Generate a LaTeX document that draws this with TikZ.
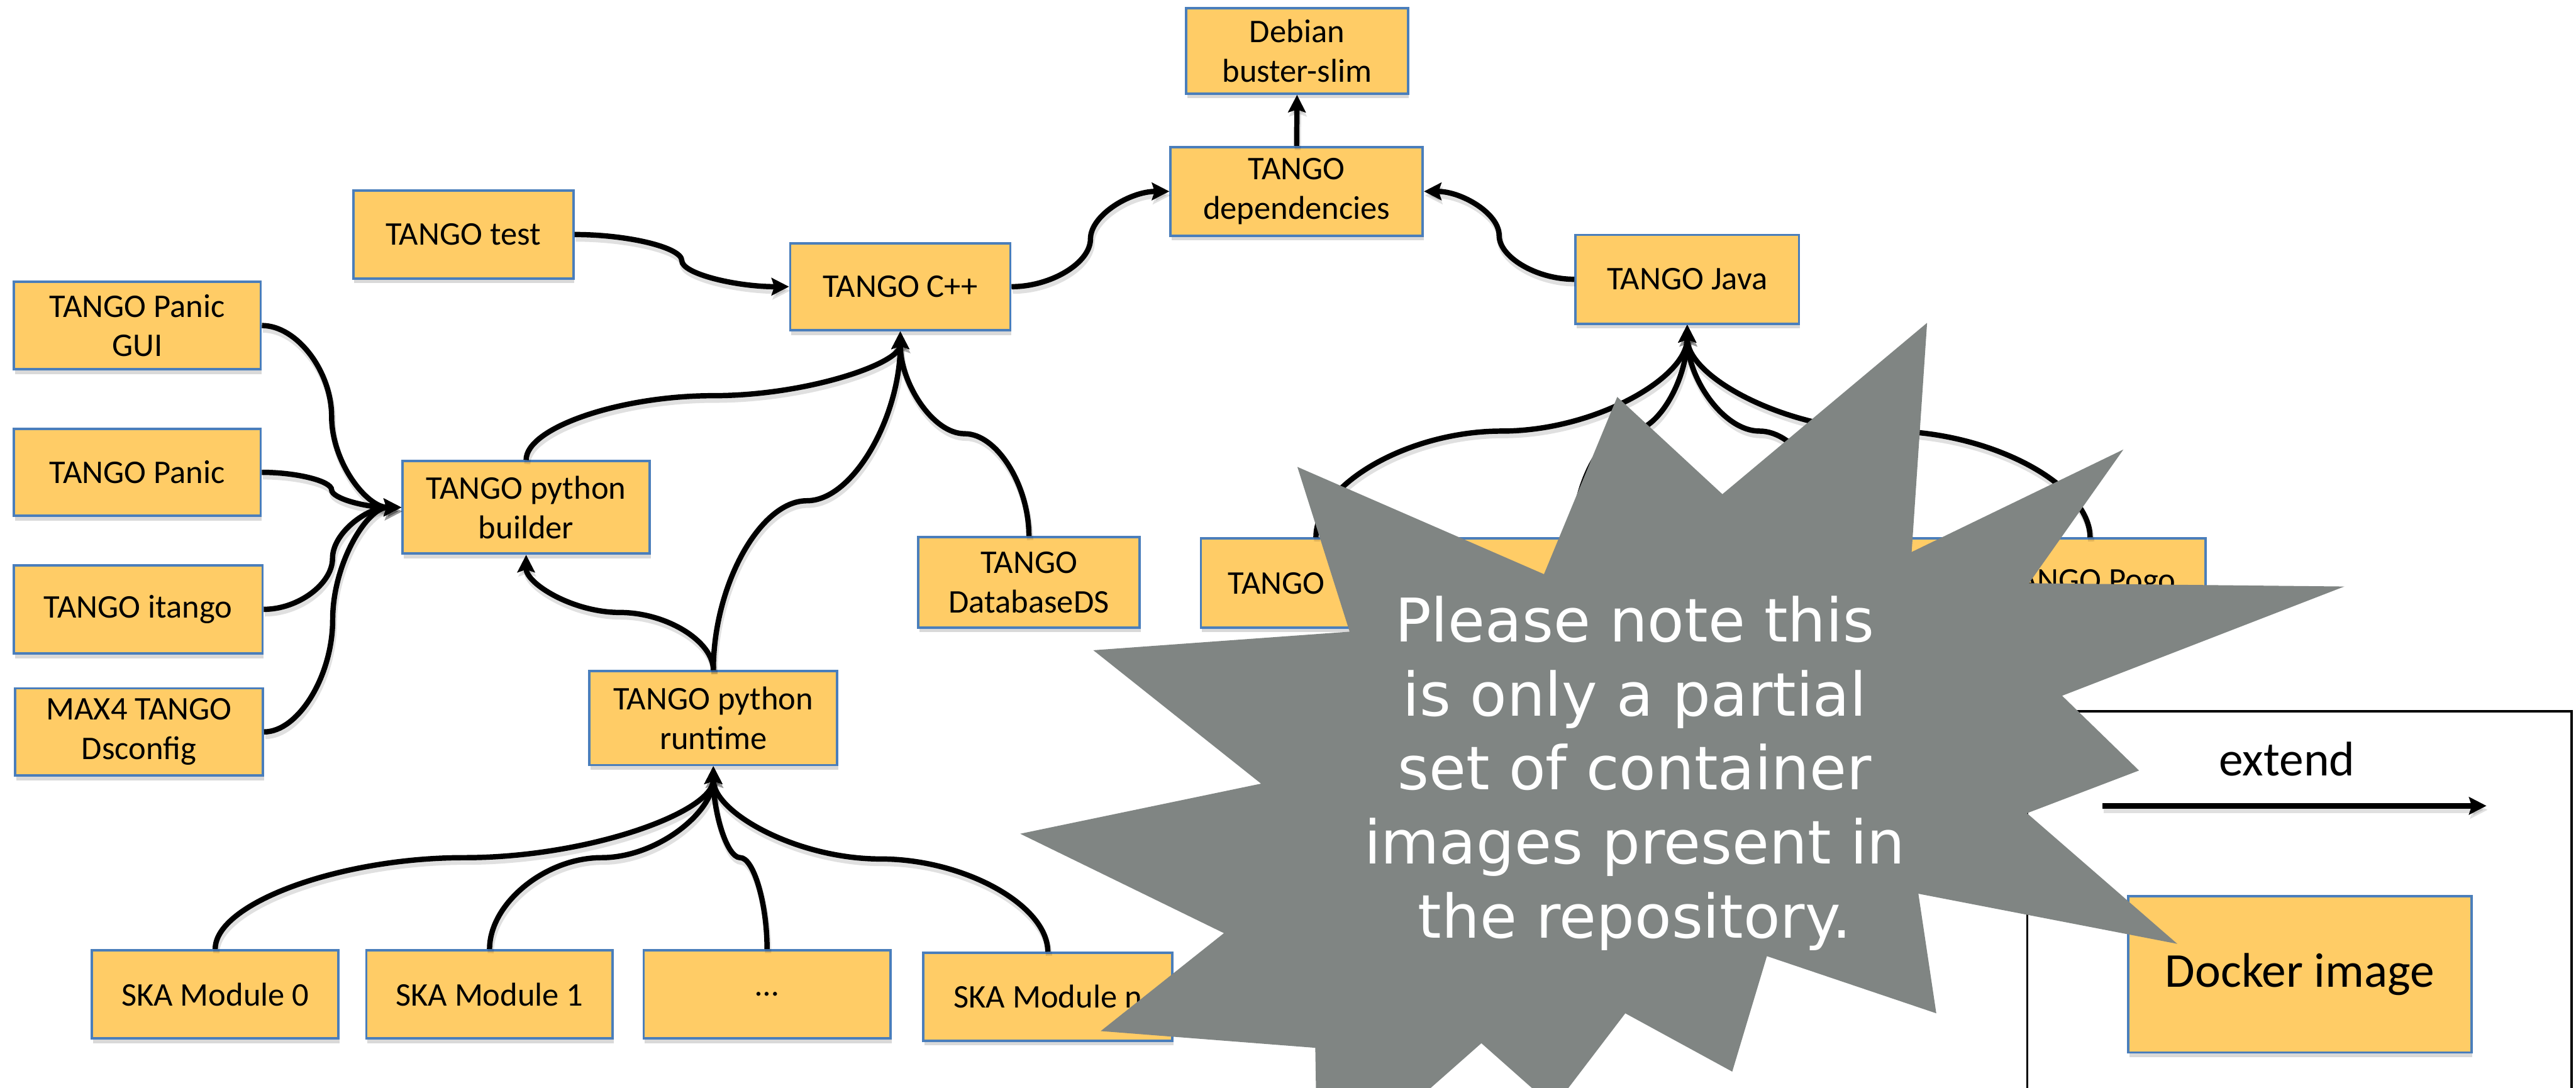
\documentclass[tikz,border=0pt]{standalone}
\usepackage{fontspec}
\setmainfont{Carlito}
\newfontfamily\notefont{DejaVu Sans}
\usetikzlibrary{calc,shadows,arrows.meta}
\definecolor{boxfill}{RGB}{255,204,102}
\definecolor{boxline}{RGB}{74,126,187}
\definecolor{starfill}{RGB}{128,133,131}
\newcommand\mkbox[6]{\node[ibox, minimum width={(#4-#2)*0.031454cm}, minimum height={(#5-#3)*0.031454cm}] (#1) at ({(#2+#4)/2},{(#3+#5)/2}) {#6};}
\begin{document}
\begin{tikzpicture}[x=0.031454cm, y=-0.031454cm,
  ibox/.style={draw=boxline, fill=boxfill, line width=1.3pt, align=center, inner sep=0pt,
    font=\fontsize{18}{21.5}\selectfont,
    drop shadow={shadow xshift=0.6pt, shadow yshift=-2.6pt, opacity=0.3}},
  conn/.style={line width=2.9pt, -{Stealth[length=9.5pt,width=9.5pt,inset=1.5pt]},
    preaction={draw=black, opacity=0.12, line width=3.4pt, transform canvas={xshift=0.6pt,yshift=-2.2pt}}},
  notetext/.style={text=white, anchor=base, inner sep=0pt, font=\notefont\fontsize{32.8}{40.3}\selectfont},
  vcurve/.style={to path={let \p1=(\tikztostart), \p2=(\tikztotarget), \n1={#1} in
    .. controls (\x1,{\y1+0.5*\n1*(\y2-\y1)}) and ({\x1+0.25*(\x2-\x1)},{\y1+\n1*(\y2-\y1)})
    .. ({0.5*(\x1+\x2)},{\y1+\n1*(\y2-\y1)})
    .. controls ({\x1+0.75*(\x2-\x1)},{\y1+\n1*(\y2-\y1)}) and (\x2,{\y1+0.5*(1+\n1)*(\y2-\y1)})
    .. (\x2,\y2) \tikztonodes}},
  vcurve/.default=0.5,
  hcurve/.style={to path={let \p1=(\tikztostart), \p2=(\tikztotarget), \n1={#1} in
    .. controls ({\x1+0.5*\n1*(\x2-\x1)},\y1) and ({\x1+\n1*(\x2-\x1)},{\y1+0.25*(\y2-\y1)})
    .. ({\x1+\n1*(\x2-\x1)},{0.5*(\y1+\y2)})
    .. controls ({\x1+\n1*(\x2-\x1)},{\y1+0.75*(\y2-\y1)}) and ({\x1+0.5*(1+\n1)*(\x2-\x1)},\y2)
    .. (\x2,\y2) \tikztonodes}},
  hcurve/.default=0.5]
\useasboundingbox (0,0) rectangle (1568,662);
\clip (0,0) rectangle (1568,662);

% legend
\node[draw=black, line width=1.2pt, inner sep=0pt, minimum width={(1565.3-1234)*0.031454cm}, minimum height={(720-433)*0.031454cm}] (legend) at ({(1234+1565.3)/2},{(433+720)/2}) {};
\node[anchor=base, inner sep=0pt, font=\fontsize{26.5}{30}\selectfont] (extlbl) at (1392,472) {extend};
\coordinate (ext1) at (1279.8,490.5);
\coordinate (ext2) at (1513.5,490.5);
\draw[conn] (ext1) -- (ext2);
\mkbox{docker}{1295.4}{545.6}{1504.3}{640.6}{}
\node[font=\fontsize{26.5}{30}\selectfont, inner sep=0pt] (dockerlbl) at (docker.center) {Docker image};

% boxes
\mkbox{deb}{722}{5}{857}{57}{Debian\\buster-slim}
\mkbox{dep}{712.5}{89.5}{866}{143.5}{TANGO\\dependencies}
\mkbox{java}{959}{143}{1095}{197}{TANGO Java}
\mkbox{test}{215}{116}{349}{169.5}{TANGO test}
\mkbox{cpp}{481}{148}{615}{201}{TANGO C++}
\mkbox{pgui}{8.4}{171.5}{158.7}{224.8}{TANGO Panic\\GUI}
\mkbox{panic}{8.4}{261}{158.7}{314}{TANGO Panic}
\mkbox{itango}{8.4}{344}{159.8}{397.8}{TANGO itango}
\mkbox{max4}{9.2}{419}{160}{472}{MAX4 TANGO\\Dsconfig}
\mkbox{pbuild}{245}{280.7}{395.5}{337}{TANGO python\\builder}
\mkbox{dbds}{559}{327}{693.6}{382}{TANGO\\DatabaseDS}
\mkbox{prun}{358.8}{408.6}{509.6}{465.7}{TANGO python\\runtime}
\mkbox{ska0}{56}{578.4}{206}{632}{SKA Module 0}
\mkbox{ska1}{223}{578.4}{373}{632}{SKA Module 1}
\mkbox{skadots}{391.8}{578.4}{542}{632}{…}
\mkbox{skan}{562}{580}{713.6}{633.4}{SKA Module n}
\mkbox{j1}{731}{327.8}{871}{382}{}
\node[inner sep=0pt, font=\fontsize{18}{21.5}\selectfont] (j1lbl) at (777,355) {TANGO};
\mkbox{j2}{888}{327.8}{1028}{382}{}
\mkbox{j3}{1045}{327.8}{1185}{382}{}
\mkbox{pogo}{1202}{327.8}{1342.4}{382}{TANGO Pogo}

% connectors
\draw[conn] (dep.north) -- (deb.south);
\draw[conn] (cpp.east) to[hcurve] (dep.west);
\draw[conn] (java.west) to[hcurve] (dep.east);
\draw[conn] (test.east) to[hcurve] (cpp.west);
\draw[conn] (pgui.east) to[hcurve] (pbuild.west);
\draw[conn] (panic.east) to[hcurve] (pbuild.west);
\draw[conn] (itango.east) to[hcurve] (pbuild.west);
\draw[conn] (max4.east) to[hcurve] (pbuild.west);
\draw[conn] (pbuild.north) to[vcurve] (cpp.south);
\draw[conn] (prun.north) to[vcurve] (cpp.south);
\draw[conn] (dbds.north) to[vcurve] (cpp.south);
\draw[conn] (prun.north) to[vcurve] (pbuild.south);
\draw[conn] (ska0.north) to[vcurve] (prun.south);
\draw[conn] (ska1.north) to[vcurve] (prun.south);
\draw[conn] (skadots.north) to[vcurve] (prun.south);
\draw[conn] (skan.north) to[vcurve] (prun.south);
\draw[conn] (j1.north) to[vcurve] (java.south);
\draw[conn] (j2.north) to[vcurve] (java.south);
\draw[conn] (j3.north) to[vcurve] (java.south);
\draw[conn] (pogo.north) to[vcurve] (java.south);

% starburst note
\fill[starfill] (1173,196.5) -- (1163.6,336) -- (1292.5,273.6) -- (1235,355) -- (1427,357)
  -- (1255.2,423.5) -- (1302,469) -- (1233.8,495) -- (1325.3,574.5) -- (1167.7,544)
  -- (1178.6,616.8) -- (1075.5,582) -- (1054.4,652.3) -- (989.3,616.8) -- (945.7,674)
  -- (901.7,635) -- (802,723) -- (800.6,637.8) -- (670,627.6) -- (745,568)
  -- (621,507.5) -- (767.6,477) -- (665.5,395.8) -- (821.5,384.5) -- (789.7,284.2)
  -- (939.8,349.5) -- (984.4,241.6) -- (1048.4,300.8) -- cycle;
\node[notetext] (note1) at (995,390.7) {Please note this};
\node[notetext] (note2) at (995,435.7) {is only a partial};
\node[notetext] (note3) at (995,480.7) {set of container};
\node[notetext] (note4) at (995,525.7) {images present in};
\node[notetext] (note5) at (995,570.8) {the repository.};
\end{tikzpicture}
\end{document}
